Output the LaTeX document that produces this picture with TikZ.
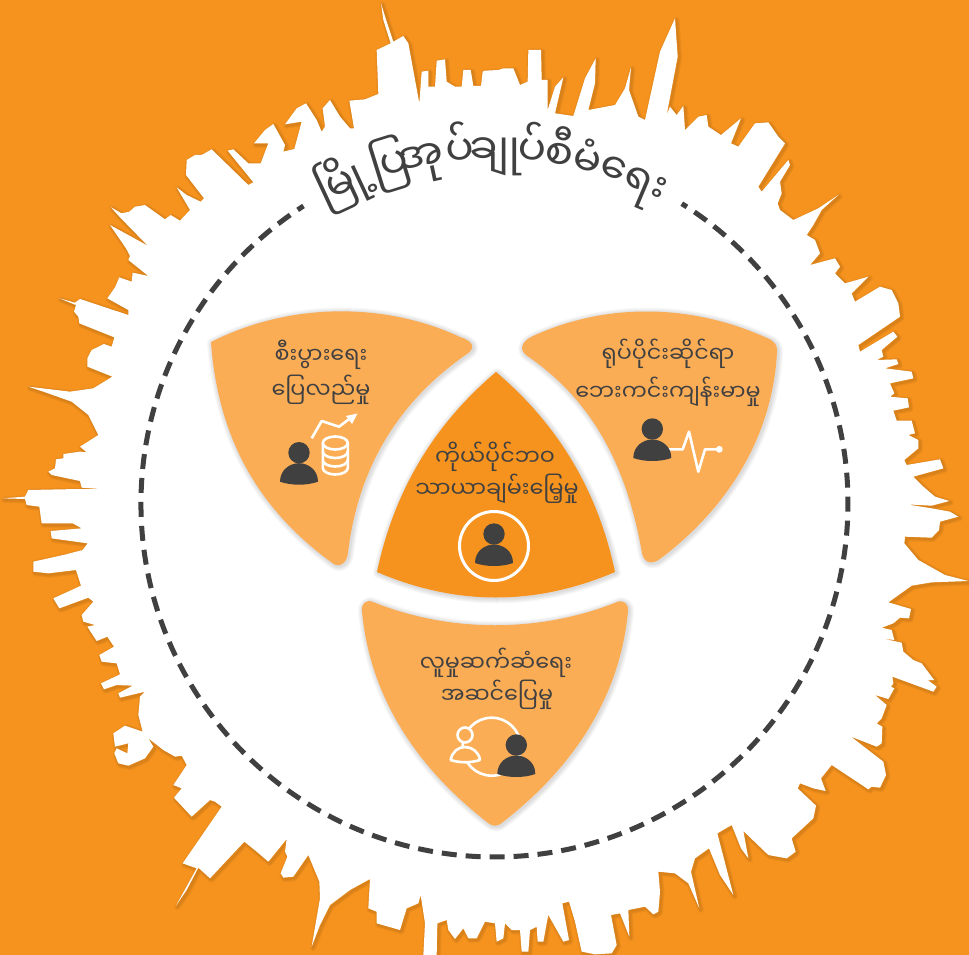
\documentclass[tikz,border=0pt]{standalone}
\usepackage{fontspec}
\newfontfamily\myfont[Script=Myanmar]{Noto Sans Myanmar UI}
\usetikzlibrary{arrows.meta}
\definecolor{bgorange}{HTML}{F6931E}
\definecolor{lobe}{HTML}{FBAD56}
\definecolor{ink}{HTML}{404041}
\newcommand\skypath{(48.3,471.7)
 \foreach \x/\y in {165/1405,168/1378,190/1375,190/1362,240/1355,260/1357,240/1340,295/1305,265/1245,215/1205,130/1175,85/1160,210/1175,280/1165,337/1130,262/1100,262/1075,275/1050,312/1032,335/1040,343/1012,238/970,235/950,222/935,228/915,178/895,225/908,240/897,385/945,385/930,322/895,345/862,358/832,395/845,398/818,445/828,385/780,390/768,378/745,330/675,443/737,358/650,333/622,365/640,388/635,405/620,435/615,495/658,512/645,540/662,570/630,530/562,560/585,602/605,612/595,558/525,560/480,585/465,605/465,635/448,745/555,760/547,683/452,700/448,745/490,782/490,805/430,762/430,795/390,820/372,855/435,850/455,883/447,905/365,855/373,890/325,918/310,950/360,965/395,975/380,968/325,990/300,1020/350,1050/385,1062/385,1048/302,1095/298,1135/282,1130/150,1172/130,1150/60,1143/10,1160/65,1180/125,1210/108,1225/130,1258/310,1265/215,1285/212,1285/260,1305/260,1310/182,1335/178,1340/245,1365/260,1385/260,1390/210,1412/210,1420/258,1443/258,1448/215}{ -- ({\x/3},{\y/3}) }
 \foreach \x/\y in {0/212,40/210,55/205,85/205,105/255,128/245,130/150,168/150,170/240,188/240,188/330,210/260,235/232,210/340,265/348,300/235,332/175,330/250,310/330,390/315,420/265,438/202,432/270,460/350,480/360,525/155,570/55,578/170,545/345,555/320,575/345,595/318,600/390,640/350,665/345,670/380,708/405,768/355,738/430,760/440,810/370,850/367,880/410,900/430,820/560,830/575,910/480,915/495,885/545,890/580,878/610,885/630,925/660,1000/625,1060/585,1010/630,985/675,965/705,990/720,1005/760,975/795,1050/775,1065/800,1050/820,1080/850,1150/830,1100/880,1110/905,1185/860,1220/870,1240/910,1245/950,1120/1035,1125/1055,1225/995,1237/1010,1190/1050,1195/1070,1175/1080,1235/1078,1240/1092,1200/1105,1280/1115,1285/1135,1215/1150,1228/1180,1215/1190,1268/1195,1272/1222,1225/1232,1235/1262,1280/1262,1290/1300,1270/1305,1300/1320,1300/1345,1258/1380,1265/1395,1365/1378,1375/1405,1285/1430}{ -- ({\x/3+485},{\y/3}) }
 \foreach \x/\y in {1285/5,1315/35,1350/65,1393/78,1340/92,1265/88,1340/100,1395/110,1420/125,1365/140,1362/165,1340/188,1260/185,1258/205,1300/255,1380/300,1450/318,1340/322,1280/332,1210/382,1278/402,1272/430,1245/428,1225/445,1190/458,1220/465,1228/495,1190/490,1250/503,1255/530,1285/555,1310/565,1340/605,1348/615,1328/615,1355/635,1345/650,1222/605,1225/625,1218/635,1228/640,1210/672,1170/660,1205/690,1190/730,1175/745,1192/755,1190/805,1175/815,1098/785,1195/860,1203/900,1185/938,1160/935,1150/943,1040/870,1008/910,1022/948,985/940,945/925,938/940,993/992,985/1030,920/1090,932/1130,905/1150,850/1140,775/1068,790/1150,768/1120,740/1050,697/1075,745/1260,705/1200,672/1120,630/1150,618/1190,643/1300,610/1225,570/1195,520/1190,525/1250,520/1310,505/1318,480/1295,430/1305,433/1385,405/1315,378/1320,395/1410,380/1435,330/1438,290/1430,270/1340,252/1280,232/1285,252/1395,235/1400,190/1320,185/1345,175/1400,158/1400,155/1355,135/1365,130/1430,110/1430,105/1365,80/1365,60/1345,55/1390,35/1400,30/1345,0/1340}{ -- ({\x/3+485},{\y/3+475}) }
 \foreach \x/\y in {1430/1390,1405/1390,1390/1360,1365/1392,1345/1365,1340/1335,1312/1345,1310/1440,1270/1440,1275/1345,1262/1260,1255/1285,1220/1300,1200/1365,1130/1345,1130/1310,1105/1300,1110/1212,1050/1245,990/1290,960/1350,935/1415,960/1270,958/1220,925/1140,880/1205,850/1208,842/1195,862/1145,855/1130,860/1092,805/1160,770/1130,733/1100,630/1210,595/1178,560/1245,528/1292,590/1180,548/1165,665/995,645/980,630/975,575/1025,522/968,545/940,520/930,560/870,545/842,525/845,490/825,445/790,460/815,435/850,385/872,355/865,343/835,350/820,382/835,385/805,345/815,340/775,375/752,428/770,415/720,420/665,435/650,360/668,355/655,398/632,350/630,312/643,303/625,360/598,350/565,305/560,298/540,342/515,322/485,290/498,262/455,285/450,250/440,245/420,280/380,265/368,178/400,160/370,243/332,228/285,145/295,100/290,100/260,190/240,248/225,263/205,155/190,152/168,245/160,218/145,125/145,118/95,80/90,75/72,8/70,75/65,85/45,235/42,300/42,245/38,240/18,155/0}{ -- ({\x/3},{\y/3+475}) } -- cycle}
\newcommand\leftlobe{(211,342) .. controls (290,302) and (385,302) .. (460,337) .. controls (473,341) and (476,348) .. (467,354) .. controls (415,390) and (360,450) .. (348,553) .. controls (347,564) and (338,569) .. (331,562) .. controls (260,510) and (218,440) .. (211,342) -- cycle}
\newcommand\rightlobe{(533,336) .. controls (605,303) and (690,303) .. (767,338) .. controls (775,341) and (778,346) .. (777,353) .. controls (772,440) and (725,510) .. (660,559) .. controls (652,565) and (644,563) .. (642,553) .. controls (625,455) and (585,395) .. (526,355) .. controls (520,350) and (520,342) .. (533,336) -- cycle}
\newcommand\bottomlobe{(373,602) .. controls (450,633) and (540,633) .. (617,602) .. controls (624,599) and (629,605) .. (628,611) .. controls (620,700) and (570,770) .. (503,822) .. controls (497,827) and (493,827) .. (487,822) .. controls (420,770) and (370,700) .. (362,611) .. controls (361,604) and (366,599) .. (373,602) -- cycle}
\newcommand\midlobe{(496,372) .. controls (558.6,425) and (598.2,491.7) .. (615,572) .. controls (535.7,606) and (456.3,606) .. (377,572) .. controls (393.8,491.7) and (433.4,425) .. (496,372) -- cycle}
\newcommand\softshadow[1]{%
 \foreach \w in {10,8,6,4,2}{\draw[black,opacity=.028,line width=\w pt,line join=round,shift={(1,1)}] #1;}}
\tikzset{
 personicon/.pic={
  \fill[ink] (0,0) circle (10.7);
  \fill[ink] (-19,29) .. controls (-19,17) and (-9,10.5) .. (0,10.5) .. controls (9,10.5) and (19,17) .. (19,29) .. controls (8,33) and (-8,33) .. cycle;},
 lobetext/.style={font=\myfont\fontsize{22.3}{22.3}\selectfont,text=ink,inner sep=0pt,anchor=base},
 titletext/.style={font=\myfont\fontsize{42}{42}\selectfont,text=ink,inner sep=0pt,anchor=base},
 iconline/.style={draw=white,line width=2.6pt,line join=round,fill=none},
}
\begin{document}
\begin{tikzpicture}[x=1pt,y=-1pt]
\useasboundingbox (0,0) rectangle (969,955);
\fill[bgorange] (0,0) rectangle (969,955);
% skyline
\foreach \w in {6,4,2}{\draw[black!70!bgorange,opacity=.06,line width=\w pt,line join=round,shift={(1.5,1.5)}] \skypath;}
\fill[white] \skypath;
% dashed ring
\draw[ink,line width=5pt,dash pattern=on 15pt off 9pt,dash phase=8pt] (303.5,206) arc (237.3:-58:353.5);
% title
\foreach \lab/\ang/\txt in {tA/115/မြို့,tB/107.3/ပြ,tC/102/အု,tD/95.7/ပ်,tE/90/ချု,tF/84/ပ်,tG/79.5/စီ,tH/75/မံ,tI/67/ရေး}{
 \node[titletext,rotate=\ang-90] (\lab) at ({495+339*cos(\ang)},{503.5-339*sin(\ang)}) {\txt};
}
% lobes
\softshadow{\leftlobe}\fill[lobe] \leftlobe;
\softshadow{\rightlobe}\fill[lobe] \rightlobe;
\softshadow{\bottomlobe}\fill[lobe] \bottomlobe;
\softshadow{\midlobe}\fill[bgorange] \midlobe;
% texts
\node[lobetext] (l1) at (321,363) {စီးပွားရေး};
\node[lobetext] (l2) at (321,398) {ပြေလည်မှု};
\node[lobetext] (r1) at (668,362) {ရုပ်ပိုင်းဆိုင်ရာ};
\node[lobetext] (r2) at (668,400) {ဘေးကင်းကျန်းမာမှု};
\node[lobetext] (m1) at (495,465) {ကိုယ်ပိုင်ဘဝ};
\node[lobetext] (m2) at (497,497) {သာယာချမ်းမြေ့မှု};
\node[lobetext] (b1) at (496,671) {လူမှုဆက်ဆံရေး};
\node[lobetext] (b2) at (497,703) {အဆင်ပြေမှု};
% left icon
\pic at (299,452.7) {personicon};
\draw[iconline] (311.7,438.3) -- (321.7,421) -- (339,426.7) -- (352,417);
\fill[white] (357.5,413.5) -- (346,416) -- (352,424) -- cycle;
\draw[iconline] (335.3,443) ellipse (12.5 and 6.5);
\draw[iconline] (322.8,443) -- (322.8,468) arc (180:0:12.5 and 6.5) -- (347.8,443);
\draw[iconline] (322.8,451.5) arc (180:0:12.5 and 6.5);
\draw[iconline] (322.8,460) arc (180:0:12.5 and 6.5);
% right icon
\draw[iconline] (668.3,449.3) -- (682.7,449.3) -- (689,431.7) -- (698.3,471.7) -- (705,449.3) -- (719.3,449.3);
\fill[white] (719.3,449.3) circle (3.4);
\pic at (652.3,429) {personicon};
% centre icon
\draw[white,line width=3pt] (494,546) circle (34.5);
\pic at (494,534) {personicon};
% bottom icon
\draw[iconline] (491.7,746.7) circle (29);
\filldraw[draw=white,fill=lobe,line width=2.6pt] (465,735) circle (7.5);
\filldraw[draw=white,fill=lobe,line width=2.6pt,line join=round] (450.7,760) .. controls (452,752) and (458,747) .. (465,747) .. controls (472,747) and (479,752) .. (480,760) .. controls (470,763) and (460,763) .. cycle;
\pic at (516.3,745) {personicon};
\end{tikzpicture}
\end{document}
